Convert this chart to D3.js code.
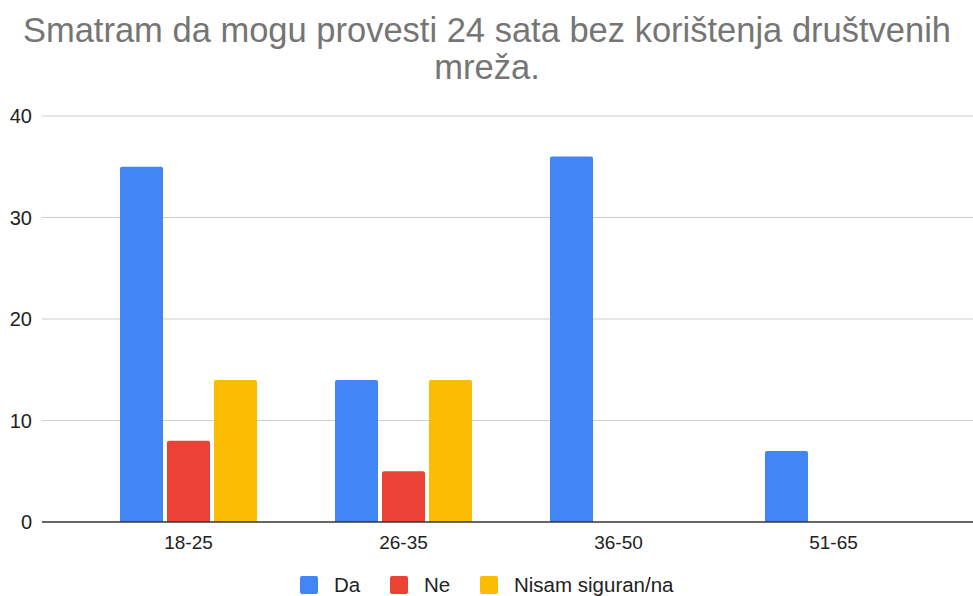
<!DOCTYPE html>
<html>
<head>
<meta charset="utf-8">
<script src="https://cdn.jsdelivr.net/npm/d3@7"></script>
<style>
  body { margin: 0; background: #fff; }
  svg { display: block; font-family: "Liberation Sans", Arial, sans-serif; }
</style>
</head>
<body>
<div class="container"></div>
<script>
const width = 973, height = 596;

const categories = ['18-25', '26-35', '36-50', '51-65'];
const seriesNames = ['Da', 'Ne', 'Nisam siguran/na'];
const seriesColors = ['#4285F4', '#EA4335', '#FBBC04'];
const da = [35, 14, 36, 7];
const ne = [8, 5, 0, 0];
const nisam = [14, 14, 0, 0];
const yTicks = [0, 10, 20, 30, 40];
const titleLines = ['Smatram da mogu provesti 24 sata bez korištenja društvenih', 'mreža.'];

const values = [da, ne, nisam];

const plotLeft = 42, plotRight = 973, plotTop = 116, plotBottom = 522;

const y = d3.scaleLinear().domain([0, 40]).range([plotBottom, plotTop]);
const x0 = d3.scaleBand().domain(categories).range([81, 941])
	.paddingInner(0.3628).paddingOuter(0.1814);
const x1 = d3.scaleBand().domain(seriesNames).range([0, x0.bandwidth()])
	.paddingInner(0.085);

const svg = d3.select('.container').append('svg')
	.attr('width', width)
	.attr('height', height)
	.attr('viewBox', [0, 0, width, height]);

// title
svg.append('g')
	.selectAll('text')
	.data(titleLines)
	.join('text')
	.attr('x', 487)
	.attr('y', (d, i) => 42 + i * 37)
	.attr('text-anchor', 'middle')
	.attr('fill', '#757575')
	.attr('font-size', 34.5)
	.text(d => d);

// gridlines
svg.append('g')
	.selectAll('line')
	.data(yTicks.filter(t => t !== 0))
	.join('line')
	.attr('x1', plotLeft)
	.attr('x2', plotRight)
	.attr('y1', d => y(d))
	.attr('y2', d => y(d))
	.attr('stroke', '#cccccc')
	.attr('stroke-width', 1);

// y labels
svg.append('g')
	.selectAll('text')
	.data(yTicks)
	.join('text')
	.attr('x', 32)
	.attr('y', d => y(d))
	.attr('dy', '0.35em')
	.attr('text-anchor', 'end')
	.attr('fill', '#222')
	.attr('font-size', 20)
	.text(d => d);

// bars
const rows = [];
categories.forEach((c, i) => {
	seriesNames.forEach((s, j) => {
		if (values[j][i] > 0) rows.push({cat: c, series: s, v: values[j][i], color: seriesColors[j]});
	});
});

svg.append('g')
	.selectAll('path')
	.data(rows)
	.join('path')
	.attr('fill', d => d.color)
	.attr('d', d => {
		const xl = x0(d.cat) + x1(d.series);
		const w = x1.bandwidth();
		const yt = y(d.v), yb = y(0), r = 2;
		return `M${xl},${yb}V${yt + r}Q${xl},${yt} ${xl + r},${yt}H${xl + w - r}Q${xl + w},${yt} ${xl + w},${yt + r}V${yb}Z`;
	});

// baseline
svg.append('line')
	.attr('x1', plotLeft)
	.attr('x2', plotRight)
	.attr('y1', y(0))
	.attr('y2', y(0))
	.attr('stroke', '#333')
	.attr('stroke-width', 1.5);

// x labels
svg.append('g')
	.selectAll('text')
	.data(categories)
	.join('text')
	.attr('x', d => x0(d) + x0.bandwidth() / 2)
	.attr('y', 549)
	.attr('text-anchor', 'middle')
	.attr('fill', '#222')
	.attr('font-size', 19)
	.text(d => d);

// legend
const legendX = [300, 390, 480];
const lg = svg.append('g')
	.selectAll('g')
	.data(seriesNames)
	.join('g')
	.attr('transform', (d, i) => `translate(${legendX[i]},576)`);
lg.append('rect')
	.attr('width', 18)
	.attr('height', 18)
	.attr('rx', 2)
	.attr('fill', (d, i) => seriesColors[i]);
lg.append('text')
	.attr('x', 34)
	.attr('y', 9)
	.attr('dy', '0.35em')
	.attr('fill', '#222')
	.attr('font-size', 20.5)
	.text(d => d);
</script>
</body>
</html>
